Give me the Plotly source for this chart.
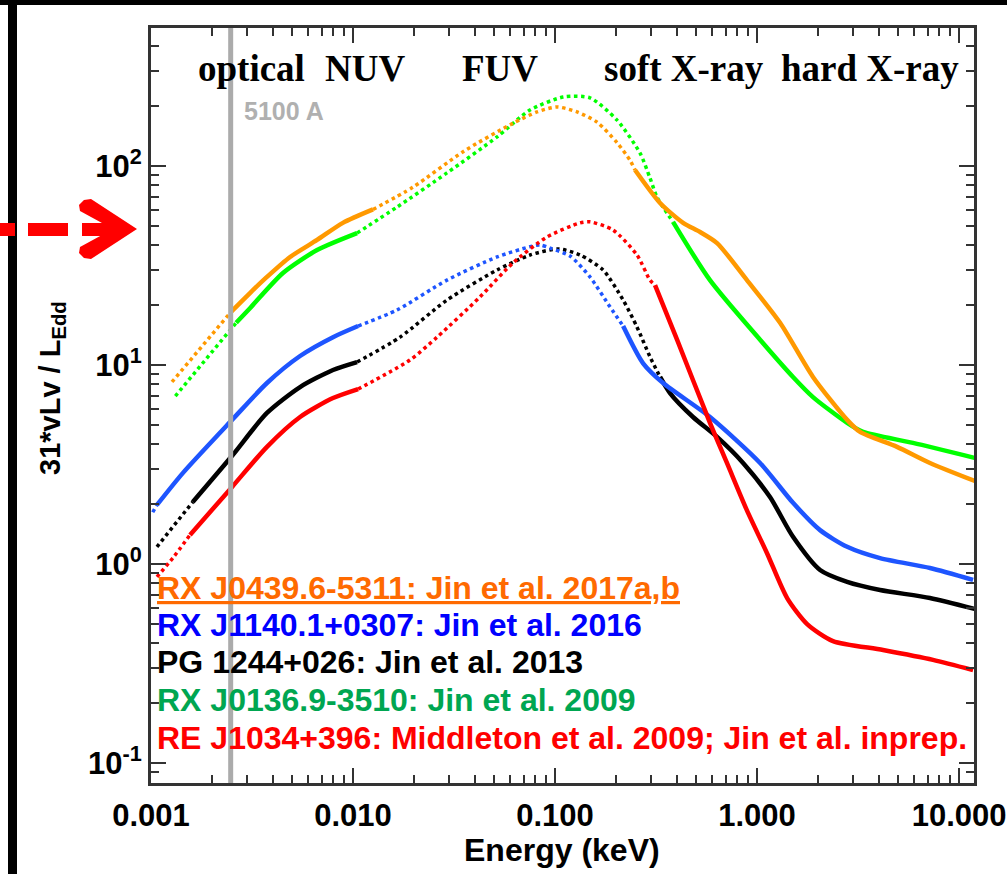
import plotly.graph_objects as go

# ---------------- data (Energy in keV, 31*vLv/LEdd) ----------------
# RX J0439.6-5311 (orange)
or_d1_e = [0.00127, 0.00249]
or_d1_y = [8.22, 18.5]
or_s1_e = [0.00249, 0.00309, 0.00375, 0.00488, 0.00664, 0.00891, 0.01256]
or_s1_y = [18.5, 23.0, 27.7, 34.9, 42.5, 51.8, 60.5]
or_d2_e = [0.01256, 0.01982, 0.03508, 0.06194, 0.08147, 0.1023, 0.1285, 0.1614, 0.2028, 0.2350, 0.2489]
or_d2_y = [60.5, 78.3, 118, 164, 187, 198, 187, 166, 131, 107, 95.5]
or_s2_e = [0.2489, 0.3311, 0.4305, 0.5224, 0.6339, 0.8913, 1.300, 1.892, 2.793, 3.236, 4.932, 7.178, 12.0]
or_s2_y = [95.5, 65.2, 51.8, 46.6, 41.0, 26.7, 16.3, 8.71, 5.30, 4.61, 3.88, 3.22, 2.61]

# RX J0136.9-3510 (green)
gr_d1_e = [0.00132, 0.00264]
gr_d1_y = [6.98, 16.3]
gr_s1_e = [0.00264, 0.00309, 0.00450, 0.00664, 0.01047]
gr_s1_y = [16.3, 19.3, 29.0, 37.8, 46.0]
gr_d2_e = [0.01047, 0.01652, 0.02917, 0.05164, 0.07516, 0.1096, 0.1489, 0.2028, 0.2636, 0.2951, 0.3199, 0.3837]
gr_d2_y = [46.0, 62.2, 92.3, 140, 191, 222, 220, 170, 116, 87.1, 69.8, 52.4]
gr_s2_e = [0.3837, 0.5848, 1.035, 1.507, 1.892, 2.793, 3.35, 5.916, 12.0]
gr_s2_y = [52.4, 26.7, 13.4, 8.71, 6.90, 5.12, 4.61, 4.06, 3.41]

# RX J1140.1+0307 (blue)
bl_d1_e = [0.00102, 0.00107]
bl_d1_y = [1.82, 1.98]
bl_s1_e = [0.00107, 0.00144, 0.00252, 0.00375, 0.00547, 0.00796, 0.0106]
bl_s1_y = [1.98, 2.87, 5.30, 8.12, 11.1, 13.8, 15.7]
bl_d2_e = [0.0106, 0.01652, 0.02917, 0.05164, 0.07516, 0.08433, 0.0944, 0.1186, 0.1489, 0.1871, 0.2173]
bl_d2_y = [15.7, 18.9, 26.7, 34.9, 39.3, 40.1, 38.7, 35.3, 27.7, 19.6, 15.7]
bl_s2_e = [0.2173, 0.2729, 0.3428, 0.5848, 1.035, 1.507, 2.051, 2.793, 4.064, 7.178, 11.73]
bl_s2_y = [15.7, 10.2, 8.12, 5.48, 3.22, 2.03, 1.48, 1.22, 1.07, 0.955, 0.832]

# PG 1244+026 (black)
bk_d1_e = [0.00107, 0.00161]
bk_d1_y = [1.22, 2.05]
bk_s1_e = [0.00161, 0.00252, 0.00375, 0.00547, 0.00796, 0.01047]
bk_s1_y = [2.05, 3.50, 5.74, 7.75, 9.44, 10.35]
bk_d2_e = [0.01047, 0.0171, 0.02917, 0.05164, 0.07516, 0.1041, 0.1331, 0.1730, 0.2173, 0.2547, 0.2951, 0.3311]
bk_d2_y = [10.35, 13.8, 21.2, 30.0, 35.7, 38.3, 35.7, 30.0, 21.2, 15.5, 11.0, 8.71]
bk_s2_e = [0.3311, 0.3707, 0.4819, 0.6339, 0.8531, 1.159, 1.507, 2.051, 2.793, 4.064, 7.178, 12.0]
bk_s2_y = [8.71, 7.23, 5.48, 4.35, 3.22, 2.17, 1.37, 0.933, 0.813, 0.740, 0.675, 0.594]

# RE J1034+396 (red)
rd_d1_e = [0.00107, 0.00129, 0.00156]
rd_d1_y = [0.861, 1.08, 1.40]
rd_s1_e = [0.00156, 0.00252, 0.00375, 0.00547, 0.00796, 0.0106]
rd_s1_y = [1.40, 2.44, 3.88, 5.48, 6.82, 7.57]
rd_d2_e = [0.0106, 0.01914, 0.02606, 0.04256, 0.06194, 0.0912, 0.1331, 0.1489, 0.1936, 0.2547, 0.2951, 0.3126]
rd_d2_y = [7.57, 10.6, 13.8, 22.0, 32.6, 44.0, 51.8, 52.4, 47.7, 35.7, 26.7, 25.2]
rd_s2_e = [0.3126, 0.4018, 0.5848, 0.7096, 0.8913, 1.122, 1.409, 1.770, 2.377, 4.207, 7.43, 11.73]
rd_s2_y = [25.2, 13.4, 5.12, 3.22, 1.86, 1.13, 0.674, 0.499, 0.410, 0.370, 0.330, 0.293]

optical_5100A_keV = 0.00248

x_tickvals = [0.001, 0.01, 0.1, 1, 10]
x_ticktext = ["0.001", "0.010", "0.100", "1.000", "10.000"]
y_tickvals = [0.1, 1, 10, 100]
y_ticktext = ["10<sup>-1</sup>", "10<sup>0</sup>", "10<sup>1</sup>", "10<sup>2</sup>"]

band_labels = ["optical", "NUV", "FUV", "soft X-ray", "hard X-ray"]
legend_texts = [
    "<u>RX J0439.6-5311: Jin et al. 2017a,b</u>",
    "RX J1140.1+0307: Jin et al. 2016",
    "PG 1244+026: Jin et al. 2013",
    "RX J0136.9-3510: Jin et al. 2009",
    "RE J1034+396: Middleton et al. 2009; Jin et al. inprep.",
]
legend_colors = ["#FF6A00", "#0000FF", "#000000", "#00A651", "#FF0000"]

# ---------------- figure ----------------
C_OR, C_GR, C_BL, C_BK, C_RD = "#FF9900", "#00FF00", "#1E55FF", "#000000", "#FF0000"
SOLID_W, DOT_W = 4.5, 3.5

fig = go.Figure()

def seg(e, y, color, dotted):
    fig.add_trace(go.Scatter(
        x=e, y=y, mode="lines", hoverinfo="skip", showlegend=False,
        line=dict(color=color, width=DOT_W if dotted else SOLID_W,
                  dash="dot" if dotted else "solid", shape="spline", smoothing=0.7)))

for (d1e, d1y, s1e, s1y, d2e, d2y, s2e, s2y, c) in [
    (gr_d1_e, gr_d1_y, gr_s1_e, gr_s1_y, gr_d2_e, gr_d2_y, gr_s2_e, gr_s2_y, C_GR),
    (or_d1_e, or_d1_y, or_s1_e, or_s1_y, or_d2_e, or_d2_y, or_s2_e, or_s2_y, C_OR),
    (bk_d1_e, bk_d1_y, bk_s1_e, bk_s1_y, bk_d2_e, bk_d2_y, bk_s2_e, bk_s2_y, C_BK),
    (bl_d1_e, bl_d1_y, bl_s1_e, bl_s1_y, bl_d2_e, bl_d2_y, bl_s2_e, bl_s2_y, C_BL),
    (rd_d1_e, rd_d1_y, rd_s1_e, rd_s1_y, rd_d2_e, rd_d2_y, rd_s2_e, rd_s2_y, C_RD),
]:
    seg(d1e, d1y, c, True)
    seg(s1e, s1y, c, False)
    seg(d2e, d2y, c, True)
    seg(s2e, s2y, c, False)

# 5100 A marker line
fig.add_trace(go.Scatter(x=[optical_5100A_keV, optical_5100A_keV], y=[0.05, 1000],
                         mode="lines", hoverinfo="skip", showlegend=False,
                         line=dict(color="#ABABAB", width=5)))

SANS = "Liberation Sans, Arial, sans-serif"
AX_FONT = dict(family=SANS, size=31, color="black")
x_minor = [m * 10.0 ** k for k in range(-3, 2) for m in range(2, 10)]
y_minor = [m * 10.0 ** k for k in range(-2, 3) for m in range(2, 10)]

common = dict(ticks="inside", ticklen=15, tickwidth=2, tickcolor="#333333",
              showline=True, linecolor="#333333", linewidth=3, mirror="ticks",
              showgrid=False, zeroline=False, tickfont=AX_FONT, automargin=False)

fig.update_xaxes(type="log", range=[-3, 1.074], tickmode="array",
                 tickvals=x_tickvals, ticktext=["<b>%s</b>" % t for t in x_ticktext],
                 ticklabelstandoff=3,
                 minor=dict(tickmode="array", tickvals=x_minor, ticks="inside",
                            ticklen=8, tickwidth=2, tickcolor="#333333", showgrid=False),
                 **common)
fig.update_yaxes(type="log", range=[-1.1005, 2.6935], tickmode="array",
                 tickvals=y_tickvals, ticktext=["<b>%s</b>" % t for t in y_ticktext],
                 minor=dict(tickmode="array", tickvals=y_minor, ticks="inside",
                            ticklen=8, tickwidth=2, tickcolor="#333333", showgrid=False),
                 **common)

def px(x):
    return (x - 151) / 823.0

def py(y):
    return (783 - y) / 755.0

ann = []
band_x = [251, 365, 500, 684, 870]
for t, xc in zip(band_labels, band_x):
    ann.append(dict(x=px(xc), y=py(68), xref="paper", yref="paper", text="<b>%s</b>" % t,
                    showarrow=False, xanchor="center", yanchor="middle",
                    font=dict(family="Liberation Serif, Times New Roman, serif", size=37, color="black")))
ann.append(dict(x=px(242), y=py(111), xref="paper", yref="paper", text="<b>5100 A</b>",
                showarrow=False, xanchor="left", yanchor="middle",
                font=dict(family=SANS, size=25, color="#B0B0B0")))
leg_y = [588, 625, 662, 700, 738]
for t, c, yc in zip(legend_texts, legend_colors, leg_y):
    ann.append(dict(x=px(155), y=py(yc), xref="paper", yref="paper", text="<b>%s</b>" % t,
                    showarrow=False, xanchor="left", yanchor="middle",
                    font=dict(family=SANS, size=32, color=c)))
ann.append(dict(x=px(562), y=py(850), xref="paper", yref="paper", text="<b>Energy (keV)</b>",
                showarrow=False, xanchor="center", yanchor="middle",
                font=dict(family=SANS, size=32, color="black")))
ann.append(dict(x=px(52), y=py(388), xref="paper", yref="paper",
                text="<b>31*vLv / L<sub>Edd</sub></b>", textangle=-90,
                showarrow=False, xanchor="center", yanchor="middle",
                font=dict(family=SANS, size=29, color="black")))

shapes = []
shapes.append(dict(type="rect", xref="paper", yref="paper", x0=px(-5), x1=px(1015),
                   y0=py(5), y1=py(-5), fillcolor="black", line=dict(width=0)))
shapes.append(dict(type="rect", xref="paper", yref="paper", x0=px(8), x1=px(17),
                   y0=py(880), y1=py(0), fillcolor="black", line=dict(width=0)))
for a, b in [(-5, 15), (28, 68), (82, 122)]:
    shapes.append(dict(type="rect", xref="paper", yref="paper", x0=px(a), x1=px(b),
                       y0=py(236), y1=py(223), fillcolor="#FF0000", line=dict(width=0)))
pts = [(137, 229), (91, 199), (84, 200), (79, 205), (80, 211), (113, 229),
       (80, 247), (79, 253), (84, 258), (91, 259)]
path = "M " + " L ".join("%.5f,%.5f" % (px(a), py(b)) for a, b in pts) + " Z"
shapes.append(dict(type="path", xref="paper", yref="paper", path=path,
                   fillcolor="#FF0000", line=dict(width=0)))

fig.update_layout(width=1007, height=874, margin=dict(l=151, r=33, t=28, b=91, autoexpand=False),
                  plot_bgcolor="white", paper_bgcolor="white", showlegend=False,
                  annotations=ann, shapes=shapes)

fig.write_html("out.html", config={"displayModeBar": False},
               post_script="document.body.style.margin='0px';")
